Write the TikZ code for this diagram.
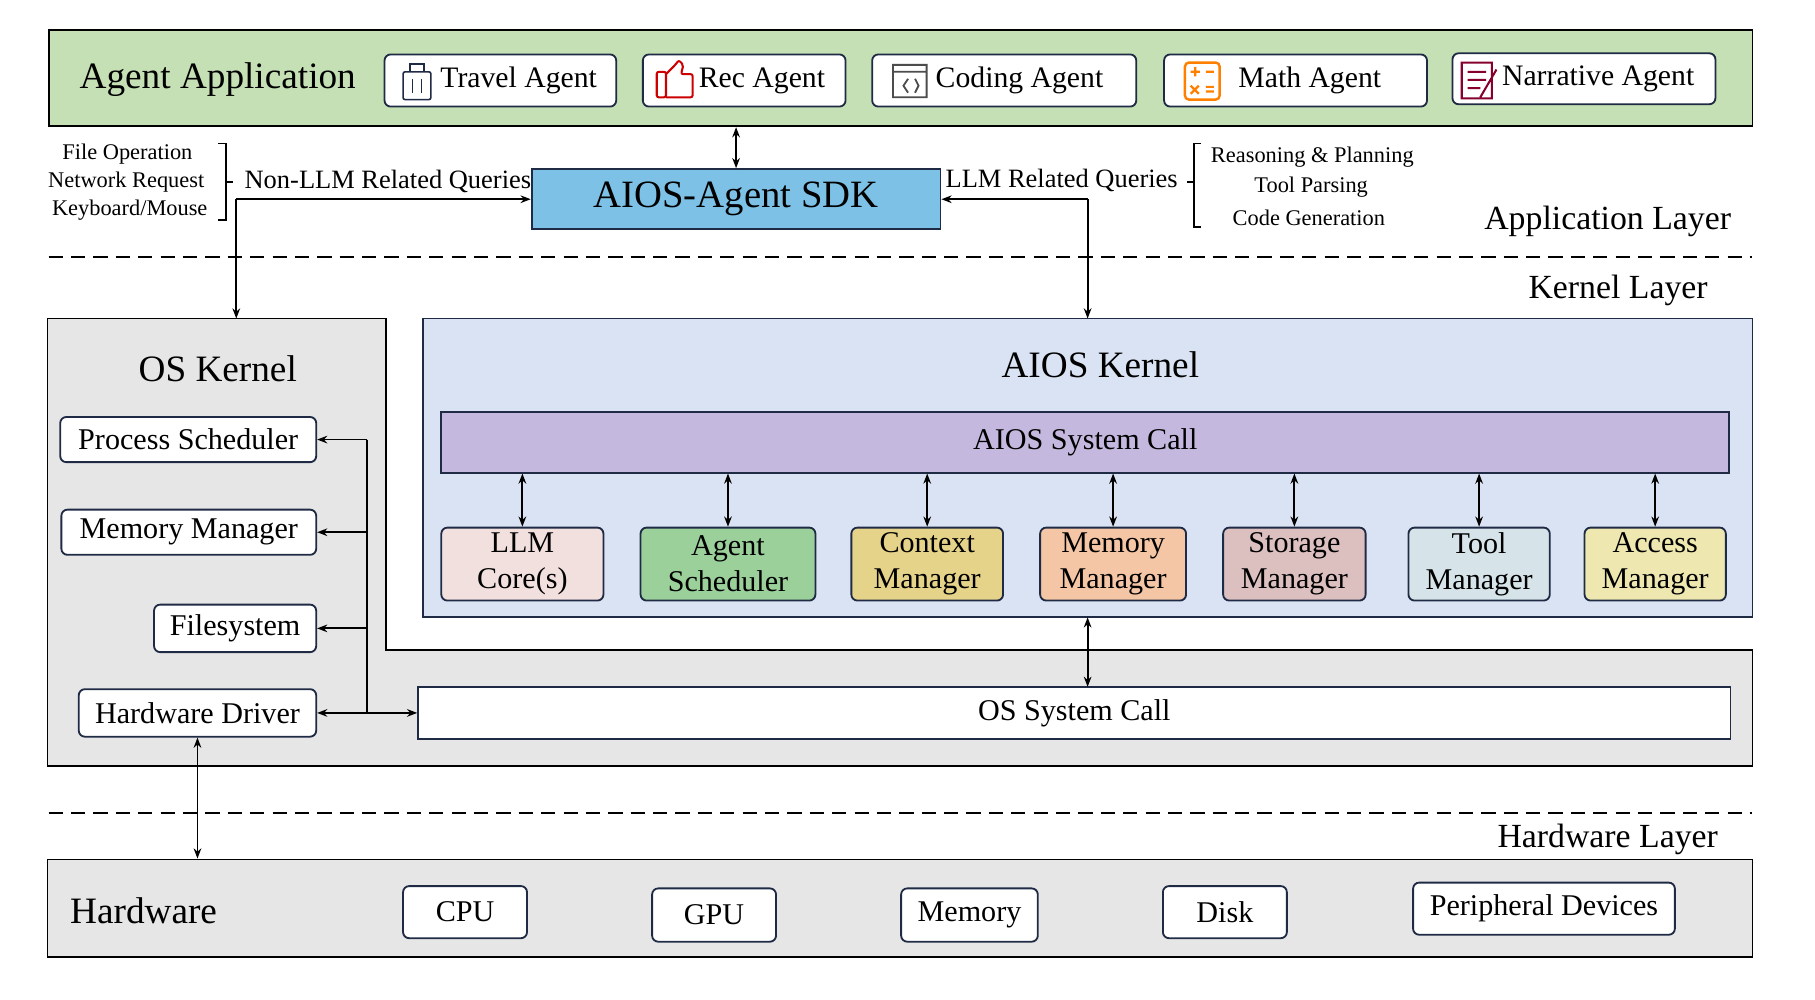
\documentclass[tikz,border=0pt]{standalone}
\usepackage{fontspec}
\setmainfont{Liberation Serif}
\usetikzlibrary{arrows.meta,decorations.pathreplacing}
\definecolor{edge}{HTML}{1F2A44}
\begin{document}
\begin{tikzpicture}[x=0.02cm,y=-0.02cm,
 wh/.style 2 args={minimum width=#1*0.02cm, minimum height=#2*0.02cm, inner sep=0pt},
 band/.style={draw=black, line width=0.9pt},
 rbox/.style={draw=edge, line width=0.9pt, rounded corners=3pt, fill=white, font=\fontsize{14.8}{16}\selectfont, align=center},
 abox/.style={rbox, font=\fontsize{14.6}{16}\selectfont},
 mod/.style={rbox, font=\fontsize{14.8}{17.6}\selectfont},
 arr/.style={-{Stealth[length=5pt]}, line width=0.9pt},
 darr/.style={{Stealth[length=5pt]}-{Stealth[length=5pt]}, line width=0.9pt},
 small/.style={font=\fontsize{11}{12}\selectfont},
 qry/.style={font=\fontsize{13}{14}\selectfont},
 lay/.style={font=\fontsize{16.6}{18}\selectfont},
 big/.style={font=\fontsize{18.3}{20}\selectfont},
 dline/.style={dash pattern=on 7pt off 4pt, line width=0.8pt}]
\useasboundingbox (0,0) rectangle (1567,863);
% Agent application
\node[band, fill={rgb,255:red,197;green,224;blue,180}, wh={1471}{83}] (app) at (777.5,67.5) {};
\node[big] (apptxt) at (188,69) {Agent Application};
\node[abox, wh={200}{45}] (travel) at (432,69.5) {\hspace*{18pt}Travel Agent};
\node[abox, wh={175}{45}] (rec) at (642.5,69.5) {\hspace*{17.5pt}Rec Agent};
\node[abox, wh={228}{45}] (coding) at (867,69.5) {\hspace*{15pt}Coding Agent};
\node[abox, wh={227}{45}] (math) at (1118.5,69.5) {\hspace*{14pt}Math Agent};
\node[abox, wh={227}{44}] (narr) at (1367.5,68) {\hspace*{14pt}Narrative Agent};
% icons
\draw[edge, line width=0.8pt, rounded corners=1pt] (348,62) rectangle (372,86);
\draw[edge, line width=0.8pt] (354,62) -- (354,55) -- (366,55) -- (366,62) (356,68)--(356,80) (364,68)--(364,80);
\draw[red!80!black, line width=1pt, rounded corners=1pt] (567,62) rectangle (575,84) (575,64) -- (583,56) -- (586,52) -- (590,56) -- (588,64) -- (598,64) -- (598,84) -- (575,84);
\draw[black!70, line width=0.9pt] (771,56) rectangle (800,84) (771,62) -- (800,62) (784,68)--(780,74)--(784,80) (790,68)--(793,74)--(790,80);
\draw[orange, line width=1.2pt, rounded corners=2pt] (1023,54) rectangle (1053,86);
\draw[orange, line width=1.1pt] (1028,62)--(1036,62) (1032,58)--(1032,66) (1041,62)--(1048,62) (1028,74)--(1035,81) (1035,74)--(1028,81) (1041,75)--(1048,75) (1041,79)--(1048,79);
\draw[purple!70!black, line width=1pt] (1262,54) rectangle (1288,85) (1267,62)--(1283,62) (1267,69)--(1283,69) (1267,76)--(1278,76) (1278,84)--(1292,60);
% SDK
\node[draw=edge, line width=0.9pt, fill={rgb,255:red,125;green,193;blue,230}, wh={353}{52}, font=\fontsize{19}{20}\selectfont] (sdk) at (635.5,172) {AIOS-Agent SDK};
\draw[darr] (app.south -| sdk.north) -- (sdk.north);
% left texts
\node[small] (t1) at (110,133) {File Operation};
\node[small] (t2) at (109,157) {Network Request};
\node[small] (t3) at (112,181) {Keyboard/Mouse};
\draw[line width=0.7pt] (188,124) -- (195,124) -- (195,190) -- (188,190) (195,157) -- (201,157);
\node[qry, anchor=west] (nonllm) at (205,157) {Non-LLM Related Queries};
% right texts
\node[qry, anchor=east] (llm) at (1023,156) {LLM Related Queries};
\draw[line width=0.7pt] (1037,124) -- (1031,124) -- (1031,196) -- (1037,196) (1031,157) -- (1025,157);
\node[small] (r1) at (1133,136) {Reasoning \& Planning};
\node[small] (r2) at (1132,162) {Tool Parsing};
\node[small] (r3) at (1130,188) {Code Generation};
\node[lay] (al) at (1388,191) {Application Layer};
\draw[dline] (42,222) -- (1513,222);
\node[lay] (kl) at (1397,251) {Kernel Layer};
% OS kernel region
\draw[band, fill={rgb,255:red,230;green,230;blue,230}] (41,275) -- (333,275) -- (333,561) -- (1513,561) -- (1513,661) -- (41,661) -- cycle;
\coordinate (osk) at (204,275);
\node[big] (osktxt) at (188,318) {OS Kernel};
% AIOS kernel
\node[draw=edge, line width=0.9pt, fill={rgb,255:red,218;green,227;blue,243}, wh={1148}{258}] (aiosk) at (939,404) {};
\node[big] (aioskt) at (950,315) {AIOS Kernel};
\node[draw=edge, line width=0.9pt, fill={rgb,255:red,197;green,184;blue,222}, wh={1112}{52}, font=\fontsize{14.8}{16}\selectfont] (sysc) at (937,382) {AIOS System Call};
% SDK arrows
\draw[arr] (osk |- sdk.west) -- (sdk.west);
\draw[arr] (osk |- sdk.west) -- (osk);
\coordinate (ak) at (939,275);
\draw[arr] (ak |- sdk.east) -- (sdk.east);
\draw[arr] (ak |- sdk.east) -- (ak);
% modules
\foreach \n/\x/\w/\c/\t in {llmc/451/140/F2E0DE/{LLM\\Core(s)}, asch/628.5/151/9BD09B/{Agent\\Scheduler}, ctx/800.5/131/E6D38A/{Context\\Manager}, mem/961/126/F5C6A5/{Memory\\Manager}, sto/1117.5/123/DCC0C0/{Storage\\Manager}, tool/1277/122/D6E4EA/{Tool\\Manager}, acc/1429/122/EEE8B0/{Access\\Manager}}{
 \definecolor{tmpc}{HTML}{\c}
 \node[mod, fill=tmpc, wh={\w}{63}] (\n) at (\x,487) {\t};
 \draw[darr] (\n.north |- sysc.south) -- (\n.north);
}
% OS kernel boxes
\node[rbox, wh={221}{39}] (ps) at (162.5,379.5) {Process Scheduler};
\node[rbox, wh={220}{39}] (mm) at (163,459.5) {Memory Manager};
\node[rbox, wh={140}{41}] (fs) at (203,542.5) {Filesystem};
\node[rbox, wh={205}{41}] (hd) at (170.5,615.5) {Hardware Driver};
\node[draw=edge, line width=0.9pt, fill=white, wh={1133}{45}, font=\fontsize{14.8}{16}\selectfont] (ossc) at (927.5,615.5) {OS System Call};
\coordinate (bus) at (317,379.5);
\draw[line width=0.9pt] (bus) -- (bus |- hd.east);
\draw[arr] (bus) -- (ps.east);
\draw[arr] (bus |- mm.east) -- (mm.east);
\draw[arr] (bus |- fs.east) -- (fs.east);
\draw[arr] (bus |- hd.east) -- (hd.east);
\draw[arr] (bus |- hd.east) -- (ossc.west);
\draw[darr] (939,533) -- (939,593);
% hardware
\draw[dline] (42,702) -- (1513,702);
\node[lay] (hl) at (1388,725) {Hardware Layer};
\node[band, fill={rgb,255:red,230;green,230;blue,230}, wh={1472}{84}] (hw) at (777,784) {};
\node[big] (hwt) at (124,786) {Hardware};
\node[rbox, wh={107}{45}] (cpu) at (401.5,787.5) {CPU};
\node[rbox, wh={107}{46}] (gpu) at (616.5,790) {GPU};
\node[rbox, wh={118}{46}] (hmem) at (837,790) {Memory};
\node[rbox, wh={107}{45}] (disk) at (1057.5,787.5) {Disk};
\node[rbox, wh={226}{45}] (per) at (1333,784.5) {Peripheral Devices};
\draw[darr] (hd.south) -- (hd.south |- hw.north);
\end{tikzpicture}
\end{document}
